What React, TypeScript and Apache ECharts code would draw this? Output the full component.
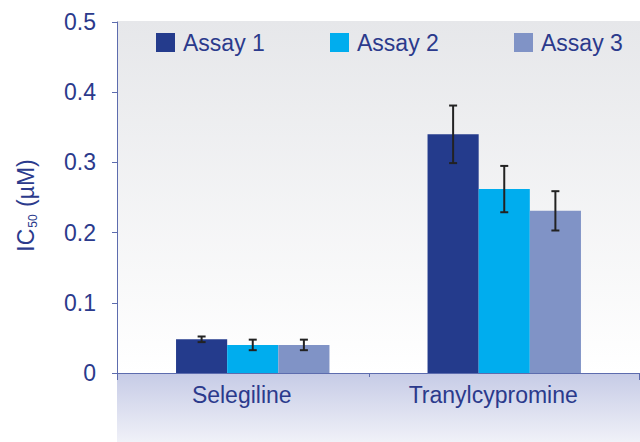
import React, { useEffect, useRef } from "react";
import * as echarts from "echarts";

const categories = ["Selegiline", "Tranylcypromine"];
const seriesNames = ["Assay 1", "Assay 2", "Assay 3"];
const assay1 = [0.048, 0.34];
const assay2 = [0.04, 0.262];
const assay3 = [0.04, 0.231];
const assay1Err = [0.004, 0.041];
const assay2Err = [0.0075, 0.033];
const assay3Err = [0.0075, 0.028];
const colors = ["#243b8c", "#00adee", "#8093c6"];

const FONT = "Liberation Sans, Arial, sans-serif";
const TEXT = "#2b3a8c";
const AXIS = "#5d6cae";
const GAP = 0.39;

export default function App() {
  const ref = useRef<HTMLDivElement>(null);
  useEffect(() => {
    document.body.style.margin = "0";
    const chart = echarts.init(ref.current!, null, { renderer: "svg" });
    const values = [assay1, assay2, assay3];
    const errs = [assay1Err, assay2Err, assay3Err];

    const barSeries = values.map((v, i) => ({
      type: "bar",
      name: seriesNames[i],
      data: v,
      barGap: "0%",
      barCategoryGap: GAP * 100 + "%",
      itemStyle: { color: colors[i] },
      z: 2,
    }));

    const errSeries = values.map((v, i) => ({
      type: "custom",
      name: seriesNames[i] + " err",
      data: v.map((val, c) => [c, val - errs[i][c], val + errs[i][c]]),
      z: 5,
      renderItem: (params: any, api: any) => {
        const c = api.value(0);
        const lo = api.value(1);
        const hi = api.value(2);
        const band = api.size([1, 0])[0];
        const bw = (band * (1 - GAP)) / 3;
        const off = (i - 1) * bw;
        const pLo = api.coord([c, lo]);
        const pHi = api.coord([c, hi]);
        const x = pLo[0] + off;
        const style = { stroke: "#222222", lineWidth: 2 };
        const cap = 4;
        return {
          type: "group",
          children: [
            { type: "line", shape: { x1: x, y1: pLo[1], x2: x, y2: pHi[1] }, style },
            { type: "line", shape: { x1: x - cap, y1: pLo[1], x2: x + cap, y2: pLo[1] }, style },
            { type: "line", shape: { x1: x - cap, y1: pHi[1], x2: x + cap, y2: pHi[1] }, style },
          ],
        };
      },
    }));

    const legendLefts = [156, 330, 514];
    const legends = seriesNames.map((n, i) => ({
      data: [n],
      left: legendLefts[i],
      top: 31,
      padding: 0,
      itemWidth: 19,
      itemHeight: 19,
      icon: "rect",
      selectedMode: false,
      textStyle: { color: TEXT, fontSize: 23, fontFamily: FONT, padding: [0, 0, 0, 3] },
    }));

    const axisStroke = { stroke: AXIS, lineWidth: 1 };

    chart.setOption({
      animation: false,
      textStyle: { fontFamily: FONT },
      legend: legends,
      graphic: [
        {
          type: "rect",
          z: -10,
          shape: { x: 117, y: 21, width: 523, height: 352 },
          style: {
            fill: new echarts.graphic.LinearGradient(0, 0, 0, 1, [
              { offset: 0, color: "#e6e7ea" },
              { offset: 1, color: "#ffffff" },
            ]),
          },
        },
        {
          type: "rect",
          z: -10,
          shape: { x: 117, y: 373, width: 523, height: 69 },
          style: {
            fill: new echarts.graphic.LinearGradient(0, 0, 0, 1, [
              { offset: 0, color: "#c6cbe6" },
              { offset: 1, color: "#f0f1f8" },
            ]),
          },
        },
        { type: "line", z: 10, shape: { x1: 112, y1: 373.5, x2: 640, y2: 373.5 }, style: axisStroke },
        { type: "line", z: 10, shape: { x1: 117.5, y1: 373, x2: 117.5, y2: 380 }, style: axisStroke },
        { type: "line", z: 10, shape: { x1: 369.5, y1: 373, x2: 369.5, y2: 377 }, style: axisStroke },
        { type: "line", z: 10, shape: { x1: 639.5, y1: 373, x2: 639.5, y2: 380 }, style: axisStroke },
      ],
      grid: { left: 127, right: 10, top: 22, bottom: 69 },
      xAxis: {
        type: "category",
        data: categories,
        axisLine: { show: false },
        axisTick: { show: false },
        axisLabel: { color: TEXT, fontSize: 23, fontFamily: FONT, margin: 10, padding: [0, 22, 0, 0] },
      },
      yAxis: {
        type: "value",
        min: 0,
        max: 0.5,
        interval: 0.1,
        offset: 10,
        axisLine: { show: true, lineStyle: { color: AXIS } },
        axisTick: { show: true, length: 5, lineStyle: { color: AXIS } },
        splitLine: { show: false },
        axisLabel: { color: TEXT, fontSize: 23, fontFamily: FONT, margin: 21 },
        name: "{m|IC}{s|50}{m| (µM)}",
        nameLocation: "middle",
        nameRotate: 90,
        nameGap: 78,
        nameTextStyle: {
          padding: [0, 16, 0, 0],
          rich: {
            m: { fontSize: 23, color: TEXT, fontFamily: FONT, lineHeight: 26 },
            s: { fontSize: 12, color: TEXT, fontFamily: FONT, lineHeight: 12, verticalAlign: "bottom", padding: [0, 1, 0, 1] },
          },
        },
      },
      series: [...barSeries, ...errSeries],
    });
    return () => chart.dispose();
  }, []);
  return <div ref={ref} style={{ width: 640, height: 442 }} />;
}
